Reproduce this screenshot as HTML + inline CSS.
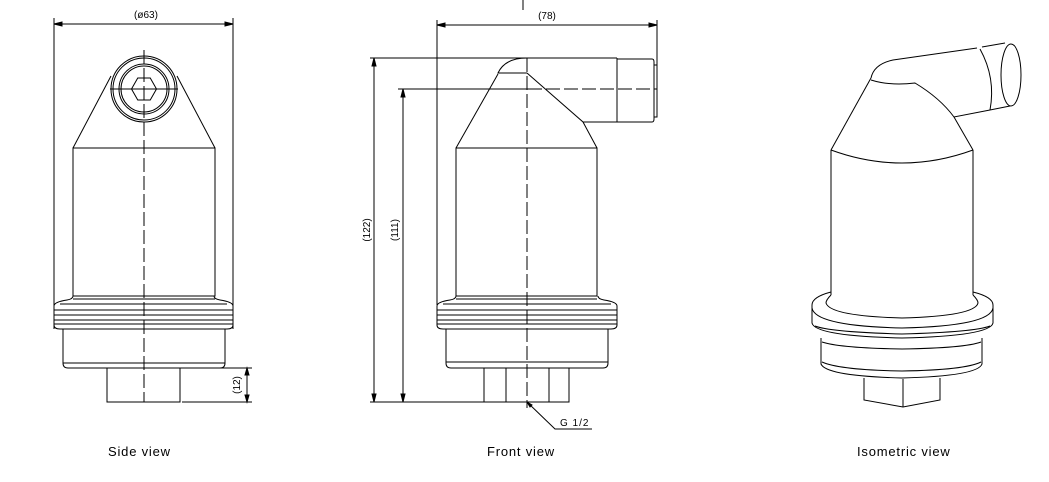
<!DOCTYPE html>
<html><head><style>
html,body{margin:0;padding:0;background:#fff;}
svg{display:block;}
text{font-family:"Liberation Sans",sans-serif;fill:#000;}
</style></head><body>
<svg width="1049" height="482" viewBox="0 0 1049 482" xmlns="http://www.w3.org/2000/svg">
<g fill="none" stroke="#000" stroke-width="1">
<!-- SIDE VIEW -->
<line x1="54" y1="18" x2="54" y2="329"/>
<line x1="233" y1="18" x2="233" y2="329"/>
<line x1="54" y1="24" x2="233" y2="24"/>
<path d="M54 24 l8 -2 v4 z M233 24 l-8 -2 v4 z" fill="#000"/>
<circle cx="144" cy="89" r="33"/>
<circle cx="144" cy="89" r="31"/>
<circle cx="144" cy="89" r="25"/>
<circle cx="144" cy="89" r="23"/>
<polygon points="131.5,89 137.75,78 150.25,78 156.5,89 150.25,100 137.75,100"/>
<line x1="110" y1="89" x2="178" y2="89"/>
<line x1="111" y1="76" x2="73" y2="148"/>
<line x1="177" y1="76" x2="215" y2="148"/>
<rect x="73" y="148" width="142" height="148"/>
<path d="M73 296 q0 3 -6 4 q-13 2 -13 6 v19 q0 4 6 4 h167 q6 0 6 -4 v-19 q0 -4 -13 -6 q-6 -1 -6 -4"/>
<line x1="54" y1="310" x2="233" y2="310"/>
<line x1="54" y1="315" x2="233" y2="315"/>
<line x1="54" y1="320" x2="233" y2="320"/>
<line x1="54" y1="324" x2="233" y2="324"/>
<line x1="60" y1="304" x2="227" y2="304"/>
<line x1="73" y1="299" x2="215" y2="299"/>
<path d="M63 329 v34 q0 5 5 5 h152 q5 0 5 -5 v-34"/>
<line x1="63" y1="363" x2="225" y2="363"/>
<rect x="107" y="368" width="73" height="34"/>
<line x1="144" y1="50" x2="144" y2="402" stroke-dasharray="14,4"/>
<line x1="182" y1="368" x2="252" y2="368"/>
<line x1="182" y1="402" x2="252" y2="402"/>
<line x1="247" y1="368" x2="247" y2="402"/>
<path d="M247 368 l-2 7 h4 z M247 402 l-2 -7 h4 z" fill="#000"/>

<!-- FRONT VIEW -->
<line x1="523" y1="0" x2="523" y2="10"/>
<line x1="437" y1="20" x2="437" y2="305"/>
<line x1="657" y1="20" x2="657" y2="66"/>
<line x1="437" y1="25" x2="657" y2="25"/>
<path d="M437 25 l8 -2 v4 z M657 25 l-8 -2 v4 z" fill="#000"/>
<line x1="370" y1="58" x2="617" y2="58"/>
<line x1="398" y1="89" x2="528" y2="89"/>
<line x1="528" y1="89" x2="657" y2="89" stroke-dasharray="14,4"/>
<line x1="583" y1="122" x2="617" y2="122"/>
<path d="M617 58 v64 M617 59 h35 q2 0 2 3 v57 q0 3 -2 3 h-35"/>
<rect x="654" y="65" width="3" height="52"/>
<path d="M527 58 q-22 0 -29 15 h29"/>
<line x1="498" y1="74" x2="456" y2="148"/>
<polyline points="527,73 583,122 597,148"/>
<rect x="456" y="148" width="141" height="148"/>
<path d="M456 296 q0 3 -6 4 q-13 2 -13 6 v19 q0 4 6 4 h168 q6 0 6 -4 v-19 q0 -4 -13 -6 q-6 -1 -6 -4"/>
<line x1="456" y1="299" x2="597" y2="299"/>
<line x1="443" y1="304" x2="611" y2="304"/>
<line x1="437" y1="310" x2="617" y2="310"/>
<line x1="437" y1="315" x2="617" y2="315"/>
<line x1="437" y1="320" x2="617" y2="320"/>
<line x1="437" y1="324" x2="617" y2="324"/>
<path d="M446 329 v34 q0 5 5 5 h152 q5 0 5 -5 v-34"/>
<line x1="446" y1="362" x2="608" y2="362"/>
<rect x="484" y="368" width="85" height="34"/>
<line x1="506" y1="368" x2="506" y2="402"/>
<line x1="549" y1="368" x2="549" y2="402"/>
<line x1="370" y1="402" x2="484" y2="402"/>
<line x1="527" y1="58" x2="527" y2="408" stroke-dasharray="14,4"/>
<line x1="374" y1="58" x2="374" y2="402"/>
<path d="M374 58 l-2 8 h4 z M374 402 l-2 -8 h4 z" fill="#000"/>
<line x1="403" y1="89" x2="403" y2="402"/>
<path d="M403 89 l-2 8 h4 z M403 402 l-2 -8 h4 z" fill="#000"/>
<polyline points="527,402 555,429 592,429"/>
<path d="M527 402 l3 5 l2 -2 z" fill="#000"/>

<!-- ISOMETRIC -->
<path d="M831 150 Q902 176 973 150"/>
<line x1="831" y1="150" x2="831" y2="295"/>
<line x1="973" y1="150" x2="973" y2="295"/>
<line x1="831" y1="150" x2="871" y2="78"/>
<line x1="973" y1="150" x2="954" y2="117"/>
<path d="M871 78 Q874 64 893 60 L977 48"/>
<path d="M871 80 Q890 86 915 83 Q940 98 954 117 L990 110"/>
<path d="M980 49 Q996 78 990 110"/>
<path d="M982 47 L1005 43 M990 110 L1010 106"/>
<ellipse cx="1011" cy="75" rx="10" ry="31"/>
<path d="M831 295 Q826 300 826 303 Q830 316 902 318 Q975 316 978 303 Q978 300 973 295"/>
<path d="M831 292 Q812 297 812 305 v18 Q815 336 902 338 Q990 336 993 323 v-18 Q993 297 973 292"/>
<path d="M812 308 Q815 326 902 328 Q990 326 993 308"/>
<path d="M815 326 Q830 332 902 334 Q975 332 990 326"/>
<path d="M821 338 v26 Q826 376 902 378 Q978 376 982 364 v-26"/>
<path d="M822 342 Q840 348 902 349 Q965 348 981 342"/>
<path d="M822 362 Q840 370 902 371 Q965 370 981 362"/>
<polyline points="864,378 864,400 903,407 940,400 940,378"/>
<line x1="903" y1="379" x2="903" y2="407"/>
</g>
<g font-size="10">
<text x="146" y="18" text-anchor="middle">(ø63)</text>
<text x="547" y="19" text-anchor="middle">(78)</text>
<text transform="translate(240,385) rotate(-90)" text-anchor="middle">(12)</text>
<text transform="translate(370,230) rotate(-90)" text-anchor="middle">(122)</text>
<text transform="translate(398,230) rotate(-90)" text-anchor="middle">(111)</text>
<text x="560" y="426" letter-spacing="1">G 1/2</text>
</g>
<g font-size="13" letter-spacing="0.8">
<text x="108" y="456">Side  view</text>
<text x="487" y="456">Front  view</text>
<text x="857" y="456">Isometric  view</text>
</g>
</svg>
</body></html>
